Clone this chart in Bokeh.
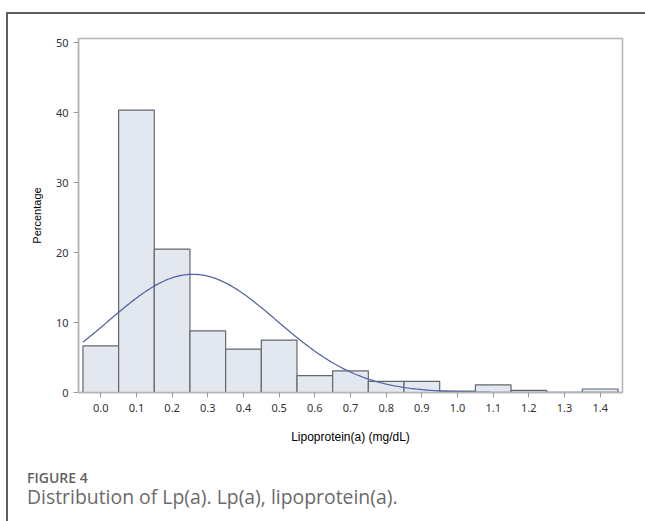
import numpy as np
from bokeh.plotting import figure
from bokeh.layouts import column
from bokeh.models import (ColumnDataSource, FixedTicker, NumeralTickFormatter,
                          Div, Range1d)
from bokeh.embed import file_html
from bokeh.resources import INLINE

# Histogram of Lp(a): bin midpoints (mg/dL) and percentage of patients per bin
bin_mid = [0.0, 0.1, 0.2, 0.3, 0.4, 0.5, 0.6, 0.7, 0.8, 0.9, 1.0, 1.1, 1.2, 1.3, 1.4]
percent = [6.66, 40.4, 20.5, 8.8, 6.2, 7.5, 2.4, 3.1, 1.6, 1.6, 0.2, 1.1, 0.3, 0.0, 0.5]
bin_width = 0.1

# Fitted normal density parameters
fit_mean = 0.258
fit_sd = 0.236

x_ticks = [0.0, 0.1, 0.2, 0.3, 0.4, 0.5, 0.6, 0.7, 0.8, 0.9, 1.0, 1.1, 1.2, 1.3, 1.4]
y_ticks = [0, 10, 20, 30, 40, 50]

# panel with a left/top rule; figure and caption sit inside it
MARGIN_L, MARGIN_T, RULE = 6, 12, 2
W = 645 - MARGIN_L - RULE
H = 456
LEFT, RIGHT, TOP, BOTTOM = 70, 23, 24, 78

p = figure(width=W, height=H, output_backend="svg", toolbar_location=None,
           x_range=Range1d(-0.0625, 1.4625), y_range=Range1d(0, 50.63))
p.min_border_left = LEFT
p.min_border_right = RIGHT
p.min_border_top = TOP
p.min_border_bottom = BOTTOM
p.background_fill_color = "white"
p.border_fill_color = "white"
p.outline_line_color = "#b4b4b4"
p.outline_line_width = 1.5
p.xgrid.visible = False
p.ygrid.visible = False

bars = ColumnDataSource(dict(x=bin_mid, top=percent))
p.vbar(x="x", top="top", bottom=0, width=bin_width, source=bars,
       fill_color="#e3e7ef", line_color="#63676d", line_width=1.2)

xs = np.linspace(bin_mid[0] - bin_width / 2, bin_mid[-1] + bin_width / 2, 300)
dens = 100 * bin_width * np.exp(-0.5 * ((xs - fit_mean) / fit_sd) ** 2) / (fit_sd * np.sqrt(2 * np.pi))
p.line(xs, dens, line_color="#5566a6", line_width=1.3)

for ax in (p.xaxis[0], p.yaxis[0]):
    ax.axis_line_color = "#b4b4b4"
    ax.axis_line_width = 1.5
    ax.major_tick_line_color = "#9a9a9a"
    ax.major_tick_out = 5
    ax.major_tick_in = 0
    ax.minor_tick_line_color = None
    ax.major_label_text_font = "Noto Sans"
    ax.major_label_text_font_size = "11px"
    ax.major_label_text_color = "#333333"
    ax.axis_label_text_font = "Liberation Sans"
    ax.axis_label_text_font_style = "normal"
    ax.axis_label_text_color = "#000000"

p.xaxis.ticker = FixedTicker(ticks=x_ticks)
p.xaxis.formatter = NumeralTickFormatter(format="0.0")
p.xaxis.axis_label = "Lipoprotein(a) (mg/dL)"
p.xaxis.axis_label_text_font_size = "12px"
p.xaxis.major_label_standoff = 6
p.xaxis.axis_label_standoff = 15

p.yaxis.ticker = FixedTicker(ticks=y_ticks)
p.yaxis.axis_label = "Percentage"
p.yaxis.axis_label_text_font_size = "11px"
p.yaxis.major_label_standoff = 5
p.yaxis.axis_label_standoff = 10

caption = Div(
    width=W, height=521 - MARGIN_T - RULE - H,
    text=(
        "<div style=\"padding:1px 0 0 19px;line-height:14px;font-family:'Open Sans';"
        "font-size:14px;font-weight:600;color:#5f5f5f;\">FIGURE 4</div>"
        "<div style=\"margin-top:2px;padding-left:19px;line-height:20px;font-family:'Open Sans';"
        "font-size:19.4px;font-weight:400;color:#6a6a6a;white-space:nowrap;\">"
        "Distribution of Lp(a). Lp(a), lipoprotein(a).</div>"
    ),
    margin=0,
)

page = column(p, caption, spacing=0, margin=(MARGIN_T, 0, 0, MARGIN_L),
              styles={"border-left": f"{RULE}px solid #5f5f5f",
                      "border-top": f"{RULE}px solid #5f5f5f",
                      "background": "white"})

open("out.html", "w").write(file_html(page, INLINE))
